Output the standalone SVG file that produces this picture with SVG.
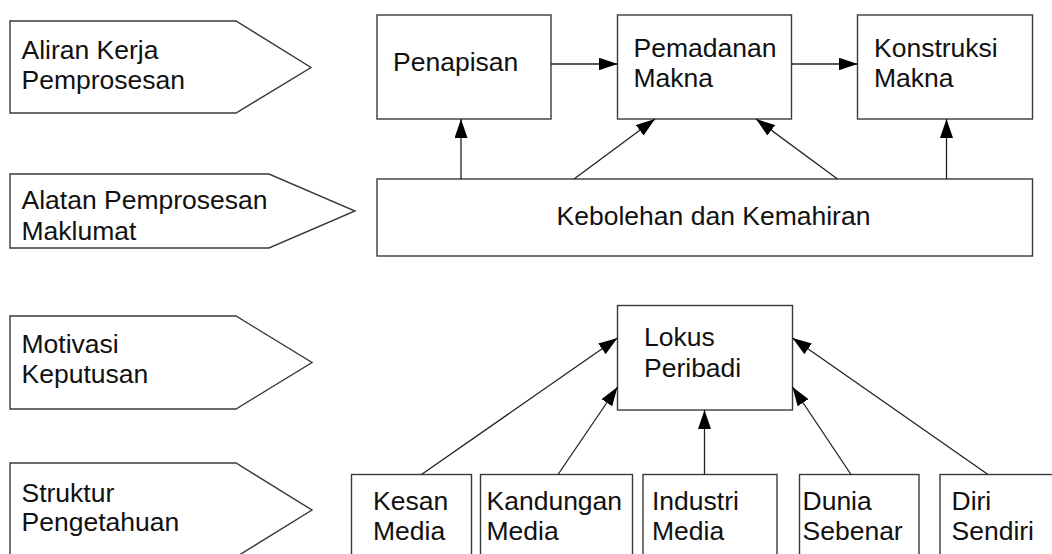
<svg xmlns="http://www.w3.org/2000/svg" width="1052" height="554" viewBox="0 0 1052 554">
<defs>
<style>
.shape{fill:#fff;stroke:#3a3a3a;stroke-width:1.4}
.lbl{font-family:"Liberation Sans",Arial,sans-serif;font-size:26.5px;fill:#111}
.conn{stroke:#222;stroke-width:1.3;fill:none;marker-end:url(#ah)}
</style>
<marker id="ah" markerUnits="userSpaceOnUse" markerWidth="19" markerHeight="13" refX="19" refY="6.5" orient="auto">
<path d="M0,0 L19,6.5 L0,13 z" fill="#000"/>
</marker>
</defs>
<rect width="1052" height="554" fill="#fff"/>
<g id="label-aliran">
<polygon class="shape" points="10,21 236,21 311,67.5 236,113 10,113"/>
<text class="lbl" x="21.5" y="59">Aliran Kerja</text>
<text class="lbl" x="21.5" y="89">Pemprosesan</text>
</g>
<g id="label-alatan">
<polygon class="shape" points="10,174 269,174 355,211 269,248 10,248"/>
<text class="lbl" x="21.5" y="209">Alatan Pemprosesan</text>
<text class="lbl" x="21.5" y="240">Maklumat</text>
</g>
<g id="label-motivasi">
<polygon class="shape" points="10,316 236,316 312,362.5 236,409 10,409"/>
<text class="lbl" x="21.5" y="353">Motivasi</text>
<text class="lbl" x="21.5" y="383">Keputusan</text>
</g>
<g id="label-struktur">
<polygon class="shape" points="10,463 236,463 312,510 236,557 10,557"/>
<text class="lbl" x="21.5" y="502">Struktur</text>
<text class="lbl" x="21.5" y="531">Pengetahuan</text>
</g>
<g id="penapisan">
<rect class="shape" x="377" y="15" width="174" height="104"/>
<text class="lbl" x="393" y="71">Penapisan</text>
</g>
<g id="pemadanan">
<rect class="shape" x="617.5" y="15" width="174" height="104"/>
<text class="lbl" x="633.5" y="56.5">Pemadanan</text>
<text class="lbl" x="633.5" y="86.5">Makna</text>
</g>
<g id="konstruksi">
<rect class="shape" x="857.5" y="15" width="175" height="104"/>
<text class="lbl" x="874" y="56.5">Konstruksi</text>
<text class="lbl" x="874" y="86.5">Makna</text>
</g>
<g id="kebolehan">
<rect class="shape" x="377" y="179" width="655.5" height="77"/>
<text class="lbl" x="713.5" y="225" text-anchor="middle">Kebolehan dan Kemahiran</text>
</g>
<g id="lokus">
<rect class="shape" x="617.5" y="305.5" width="175" height="104.5"/>
<text class="lbl" x="644" y="346">Lokus</text>
<text class="lbl" x="644" y="376.5">Peribadi</text>
</g>
<g id="kesan">
<rect class="shape" x="351.5" y="474.5" width="120" height="90"/>
<text class="lbl" x="373" y="510">Kesan</text>
<text class="lbl" x="373" y="540">Media</text>
</g>
<g id="kandungan">
<rect class="shape" x="480.5" y="474.5" width="152" height="90"/>
<text class="lbl" x="486.5" y="510">Kandungan</text>
<text class="lbl" x="486.5" y="540">Media</text>
</g>
<g id="industri">
<rect class="shape" x="643" y="474.5" width="134" height="90"/>
<text class="lbl" x="652" y="510">Industri</text>
<text class="lbl" x="652" y="540">Media</text>
</g>
<g id="dunia">
<rect class="shape" x="799.5" y="474.5" width="119.5" height="90"/>
<text class="lbl" x="802.5" y="510">Dunia</text>
<text class="lbl" x="802.5" y="540">Sebenar</text>
</g>
<g id="diri">
<rect class="shape" x="940" y="474.5" width="130" height="90"/>
<text class="lbl" x="951.5" y="510">Diri</text>
<text class="lbl" x="951.5" y="540">Sendiri</text>
</g>
<g id="connectors">
<line class="conn" x1="551" y1="64" x2="617.5" y2="64"/>
<line class="conn" x1="791.5" y1="64" x2="857.5" y2="64"/>
<line class="conn" x1="461" y1="179" x2="461" y2="119"/>
<line class="conn" x1="574" y1="179" x2="655" y2="119"/>
<line class="conn" x1="837.5" y1="179" x2="756" y2="119"/>
<line class="conn" x1="946.5" y1="179" x2="946.5" y2="119"/>
<line class="conn" x1="421.5" y1="474.5" x2="617.5" y2="338"/>
<line class="conn" x1="558" y1="474.5" x2="617.5" y2="387"/>
<line class="conn" x1="704.5" y1="474.5" x2="704.5" y2="410"/>
<line class="conn" x1="851" y1="474.5" x2="792.5" y2="387"/>
<line class="conn" x1="988" y1="474.5" x2="792.5" y2="338"/>
</g>
</svg>
